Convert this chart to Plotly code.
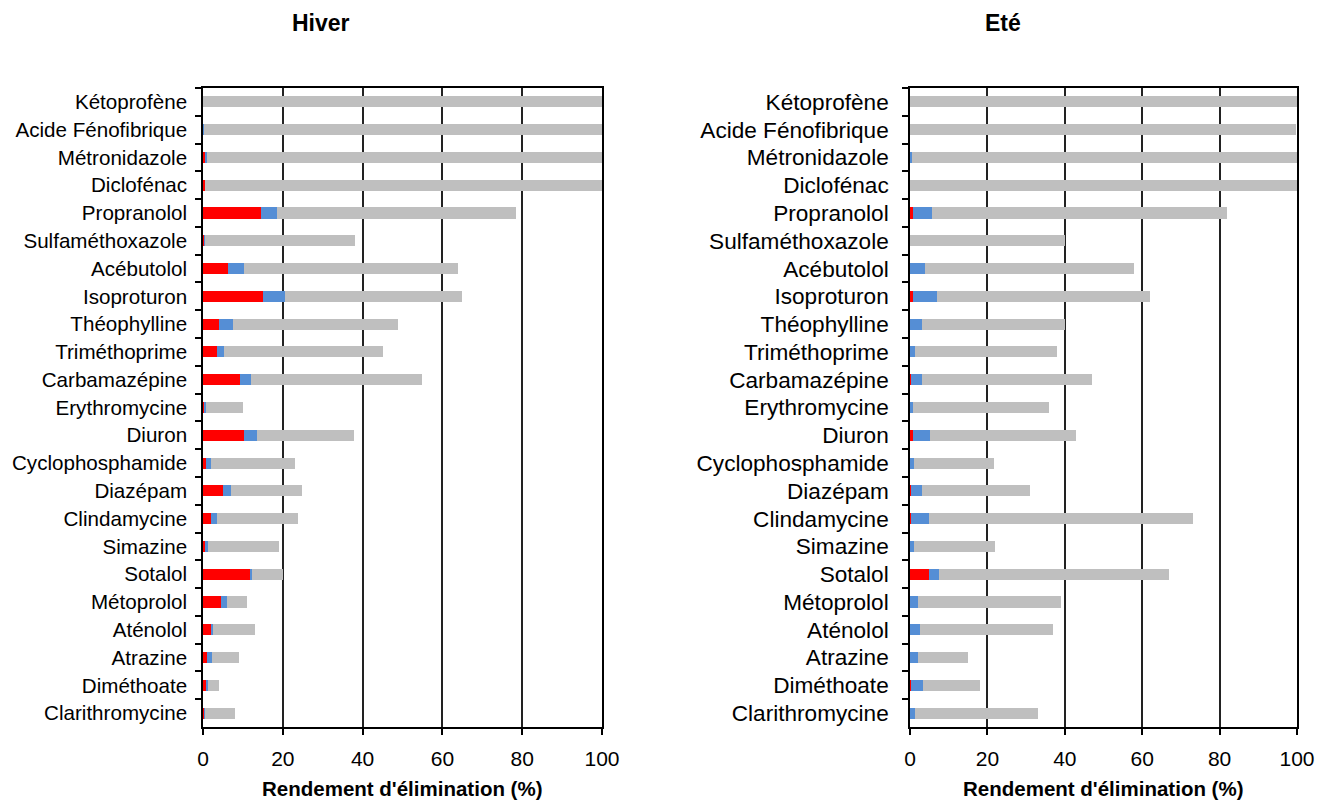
import plotly.graph_objects as go

# Micropolluants, listés du haut vers le bas
composes = [
    "Kétoprofène", "Acide Fénofibrique", "Métronidazole", "Diclofénac",
    "Propranolol", "Sulfaméthoxazole", "Acébutolol", "Isoproturon",
    "Théophylline", "Triméthoprime", "Carbamazépine", "Erythromycine",
    "Diuron", "Cyclophosphamide", "Diazépam", "Clindamycine", "Simazine",
    "Sotalol", "Métoprolol", "Aténolol", "Atrazine", "Diméthoate",
    "Clarithromycine",
]

# Hiver : contributions empilées (%)
hiver_rouge = [0, 0, 0.5, 0.4, 14.5, 0.3, 6.2, 15.0, 3.9, 3.6, 9.2, 0.4,
               10.3, 0.7, 4.9, 1.9, 0.6, 12.0, 4.4, 2.0, 1.1, 0.9, 0.4]
hiver_bleu = [0, 0.2, 0.5, 0, 4.0, 0.2, 4.0, 5.5, 3.5, 1.6, 2.9, 0.3,
              3.2, 1.2, 2.1, 1.5, 0.7, 0.4, 1.7, 0.6, 1.1, 0.4, 0.2]
hiver_gris = [100, 99.8, 99.0, 99.6, 60.0, 37.5, 53.6, 44.5, 41.4, 39.8,
              42.7, 9.2, 24.3, 21.2, 17.8, 20.5, 17.7, 7.7, 4.9, 10.4, 6.8,
              2.6, 7.3]

# Eté : contributions empilées (%)
ete_rouge = [0, 0, 0, 0, 0.8, 0, 0, 0.8, 0, 0, 0.3, 0,
             0.8, 0, 0.2, 0.2, 0, 4.9, 0, 0.1, 0, 0.2, 0]
ete_bleu = [0, 0, 0.4, 0, 4.9, 0, 3.9, 6.3, 3.1, 1.4, 2.9, 0.7,
            4.4, 1.0, 3.0, 4.8, 1.0, 2.6, 2.1, 2.5, 2.1, 3.2, 1.4]
ete_gris = [100, 99.8, 99.6, 99.9, 76.2, 40.1, 54.1, 54.9, 37.0, 36.7,
            43.7, 35.2, 37.7, 20.8, 27.7, 68.0, 21.0, 59.3, 36.9, 34.4,
            12.8, 14.6, 31.6]

titres = ["Hiver", "Eté"]
axe_x_titre = "Rendement d'élimination (%)"
ticks_x = [0, 20, 40, 60, 80, 100]

ROUGE, BLEU, GRIS = "#FF0000", "#558ED5", "#BFBFBF"
POLICE = "Liberation Sans, Arial, sans-serif"

W, H = 1326, 805
fig = go.Figure()

panneaux = [
    ("x", "y", hiver_rouge, hiver_bleu, hiver_gris),
    ("x2", "y2", ete_rouge, ete_bleu, ete_gris),
]
for xa, ya, r, b, g in panneaux:
    for vals, col in ((r, ROUGE), (b, BLEU), (g, GRIS)):
        fig.add_trace(go.Bar(
            x=vals, y=composes, orientation="h", xaxis=xa, yaxis=ya,
            marker=dict(color=col, line=dict(width=0)), width=0.4,
            showlegend=False,
        ))

y_dom = [1 - 727 / H, 1 - 88 / H]
x_doms = [[203 / W, 602 / W], [910 / W, 1297 / W]]

axe_x = dict(
    range=[0, 100], tickvals=ticks_x, ticks="outside", ticklen=6,
    tickcolor="black", tickwidth=1.5, showline=True, linecolor="black",
    linewidth=1.5, mirror=True, showgrid=True, gridcolor="#222222",
    gridwidth=1.5, zeroline=False, automargin=False,
    ticklabelstandoff=6,
    tickfont=dict(family=POLICE, size=21, color="black"),
)
axe_y = dict(
    categoryorder="array", categoryarray=composes, autorange="reversed",
    ticks="outside", tickson="boundaries", ticklen=6, tickcolor="black",
    tickwidth=1.5, showline=True, linecolor="black", linewidth=1.5,
    mirror=True, showgrid=False, automargin=False,
)

fig.update_layout(
    width=W, height=H, barmode="stack", bargap=0.6,
    margin=dict(l=0, r=0, t=0, b=0),
    paper_bgcolor="white", plot_bgcolor="white",
    xaxis=dict(axe_x, domain=x_doms[0], anchor="y"),
    xaxis2=dict(axe_x, domain=x_doms[1], anchor="y2"),
    yaxis=dict(axe_y, domain=y_dom, anchor="x", ticklabelstandoff=10,
               tickfont=dict(family=POLICE, size=20.6, color="black")),
    yaxis2=dict(axe_y, domain=y_dom, anchor="x2", ticklabelstandoff=15,
                tickfont=dict(family=POLICE, size=22.6, color="black")),
)

# Titres des panneaux et des axes
for txt, cx in zip(titres, [321, 1003]):
    fig.add_annotation(
        text=f"<b>{txt}</b>", x=cx / W, y=1 - 23 / H, xref="paper",
        yref="paper", showarrow=False, xanchor="center", yanchor="middle",
        font=dict(family=POLICE, size=23, color="black"),
    )
for dom in x_doms:
    fig.add_annotation(
        text=f"<b>{axe_x_titre}</b>", x=(dom[0] + dom[1]) / 2,
        y=1 - 788 / H, xref="paper", yref="paper", showarrow=False,
        xanchor="center", yanchor="middle",
        font=dict(family=POLICE, size=20.5, color="black"),
    )

fig.write_html("out.html")
